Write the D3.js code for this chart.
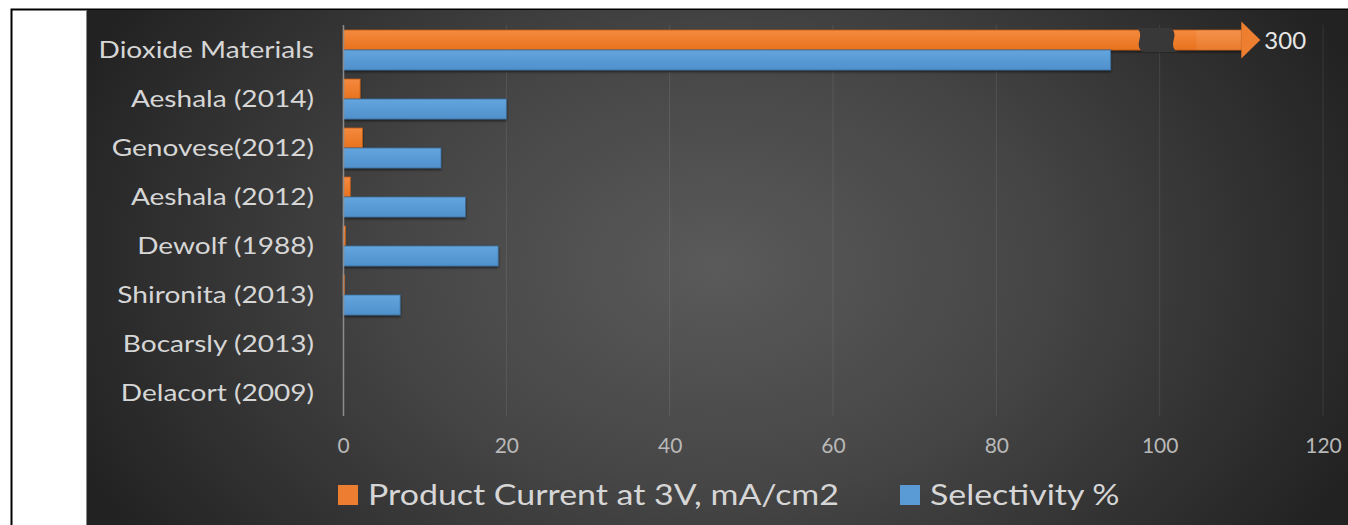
<!DOCTYPE html>
<html>
<head>
<meta charset="utf-8">
<script src="https://cdn.jsdelivr.net/npm/d3@7"></script>
<style>
  body { margin: 0; background: #fff; }
  svg { display: block; font-family: Lato, "Open Sans", sans-serif; }
</style>
</head>
<body>
<div id="chart"></div>
<script>
var categories = ["Dioxide Materials", "Aeshala (2014)", "Genovese(2012)", "Aeshala (2012)",
  "Dewolf (1988)", "Shironita (2013)", "Bocarsly (2013)", "Delacort (2009)"];
var productCurrent = [300, 2.1, 2.4, 0.9, 0.3, 0.2, 0, 0];
var selectivity = [94, 20, 12, 15, 19, 7, 0, 0];
var seriesNames = ["Product Current at 3V, mA/cm2", "Selectivity %"];
var xTicks = [0, 20, 40, 60, 80, 100, 120];

var width = 1348, height = 525;
var orange = "#ED7D31", blue = "#5B9BD5";
var capValue = 110; // where the broken bar stops

var svg = d3.select("#chart").append("svg")
  .attr("width", width)
  .attr("height", height);

var defs = svg.append("defs");

var bg = defs.append("radialGradient")
  .attr("id", "bg")
  .attr("gradientUnits", "userSpaceOnUse")
  .attr("cx", 717).attr("cy", 267).attr("r", 700)
  .attr("gradientTransform", "translate(717,267) scale(1,0.7) translate(-717,-267)");
bg.append("stop").attr("offset", 0).attr("stop-color", "#5a5a5a");
bg.append("stop").attr("offset", 0.45).attr("stop-color", "#464646");
bg.append("stop").attr("offset", 1).attr("stop-color", "#222222");

function barGrad(id, top, bottom) {
  var g = defs.append("linearGradient").attr("id", id)
    .attr("x1", 0).attr("y1", 0).attr("x2", 0).attr("y2", 1);
  g.append("stop").attr("offset", 0).attr("stop-color", top);
  g.append("stop").attr("offset", 1).attr("stop-color", bottom);
}
barGrad("gOrange", "#F58A3E", "#E8721F");
barGrad("gBlue", "#64A5DE", "#4F90CC");

var shadow = defs.append("filter").attr("id", "shadow")
  .attr("x", "-5%").attr("y", "-30%").attr("width", "110%").attr("height", "160%");
shadow.append("feDropShadow").attr("dx", 0).attr("dy", 1.5)
  .attr("stdDeviation", 1.2).attr("flood-color", "#000").attr("flood-opacity", 0.6);

// outer frame and dark panel
svg.append("rect")
  .attr("x", 11.5).attr("y", 9.5).attr("width", width + 10).attr("height", height + 10)
  .attr("fill", "#fff").attr("stroke", "#000").attr("stroke-width", 2);
svg.append("rect")
  .attr("x", 86).attr("y", 10).attr("width", width - 86).attr("height", height - 10)
  .attr("fill", "url(#bg)");
svg.append("line")
  .attr("x1", 86.5).attr("x2", 86.5).attr("y1", 10).attr("y2", height)
  .attr("stroke", "#888").attr("stroke-width", 1);

var x = d3.scaleLinear().domain([0, 120]).range([343, 1323]);
var y = d3.scaleBand().domain(categories).range([25.5, 417.5]);
var ySub = d3.scaleBand().domain(seriesNames).range([0, 40]);
var yOff = (y.bandwidth() - 40) / 2;

// gridlines
svg.append("g")
  .selectAll("line")
  .data(xTicks.slice(1))
  .enter().append("line")
  .attr("x1", function (d) { return x(d); })
  .attr("x2", function (d) { return x(d); })
  .attr("y1", 25).attr("y2", 416)
  .attr("stroke", "#ffffff").attr("stroke-opacity", 0.09);

// x axis tick labels
var xAxis = svg.append("g")
  .attr("transform", "translate(0,416)")
  .call(d3.axisBottom(x).tickValues(xTicks).tickSize(0).tickPadding(22));
xAxis.select(".domain").remove();
xAxis.selectAll("text")
  .attr("font-family", "Lato, sans-serif")
  .attr("font-size", 21)
  .attr("fill", "#b8b8b8");

// category labels (the source picture is stretched sideways)
svg.append("g").selectAll("text")
  .data(categories)
  .enter().append("text")
  .attr("transform", function (d) {
    return "translate(314," + (y(d) + y.bandwidth() / 2) + ") scale(1.17,1)";
  })
  .attr("text-anchor", "end")
  .attr("dy", "0.35em")
  .attr("font-size", 24)
  .attr("fill", "#d6d6d6")
  .text(function (d) { return d; });

// bars
var rows = categories.map(function (c, i) {
  return { cat: c, values: [productCurrent[i], selectivity[i]] };
});

var groups = svg.append("g").selectAll("g")
  .data(rows)
  .enter().append("g")
  .attr("transform", function (d) { return "translate(0," + (y(d.cat) + yOff) + ")"; });

groups.selectAll("rect")
  .data(function (d) {
    return d.values.map(function (v, j) { return { series: seriesNames[j], value: v, j: j }; });
  })
  .enter().filter(function (d) { return d.value > 0; })
  .append("rect")
  .attr("x", x(0))
  .attr("y", function (d) { return ySub(d.series); })
  .attr("width", function (d) { return Math.max(1, x(Math.min(d.value, capValue)) - x(0)); })
  .attr("height", ySub.bandwidth())
  .attr("fill", function (d) { return d.j === 0 ? "url(#gOrange)" : "url(#gBlue)"; })
  .attr("stroke", function (d) { return d.j === 0 ? "#b85a1a" : "#3a6c99"; })
  .attr("stroke-width", 0.8)
  .attr("filter", "url(#shadow)");

// broken bar: arrow head, break mark, value label
var broken = rows.filter(function (d) { return d.values[0] > capValue; });
broken.forEach(function (d) {
  var top = y(d.cat) + yOff + ySub(seriesNames[0]);
  var h = ySub.bandwidth();
  var bx = x(capValue);
  var mid = top + h / 2;

  svg.append("rect")
    .attr("x", x(104.5)).attr("y", top)
    .attr("width", bx - x(104.5)).attr("height", h)
    .attr("fill", "#ffffff").attr("fill-opacity", 0.07);

  svg.append("path")
    .attr("d", "M" + bx + "," + (mid - 18.5) + " L" + (bx + 19) + "," + mid +
      " L" + bx + "," + (mid + 18.5) + " Z")
    .attr("fill", "#EE7E30");

  var l = x(97.2), r = x(101.4);
  svg.append("path")
    .attr("d", "M" + l + "," + (top - 2) +
      " C" + (l + 9) + "," + (top + 6) + " " + (l - 4) + "," + (top + h - 6) + " " + (l + 6) + "," + (top + h + 2) +
      " L" + (r + 6) + "," + (top + h + 2) +
      " C" + (r - 4) + "," + (top + h - 6) + " " + (r + 9) + "," + (top + 6) + " " + r + "," + (top - 2) + " Z")
    .attr("fill", "#383838");

  svg.append("text")
    .attr("x", bx + 23).attr("y", mid)
    .attr("dy", "0.36em")
    .attr("font-size", 24)
    .attr("fill", "#e6e6e6")
    .text(d.values[0]);
});

// zero axis line
svg.append("line")
  .attr("x1", x(0) + 0.5).attr("x2", x(0) + 0.5)
  .attr("y1", 25).attr("y2", 416)
  .attr("stroke", "#8c8c8c").attr("stroke-width", 1.5);

// legend
var legendData = [[seriesNames[0], orange, 338], [seriesNames[1], blue, 900]];
var legend = svg.append("g").selectAll("g")
  .data(legendData)
  .enter().append("g")
  .attr("transform", function (d) { return "translate(" + d[2] + ",485)"; });

legend.append("rect")
  .attr("width", 20).attr("height", 20)
  .attr("fill", function (d) { return d[1]; });

legend.append("text")
  .attr("transform", "translate(30,10) scale(1.17,1)")
  .attr("dy", "0.36em")
  .attr("font-size", 29)
  .attr("fill", "#d6d6d6")
  .text(function (d) { return d[0]; });
</script>
</body>
</html>
